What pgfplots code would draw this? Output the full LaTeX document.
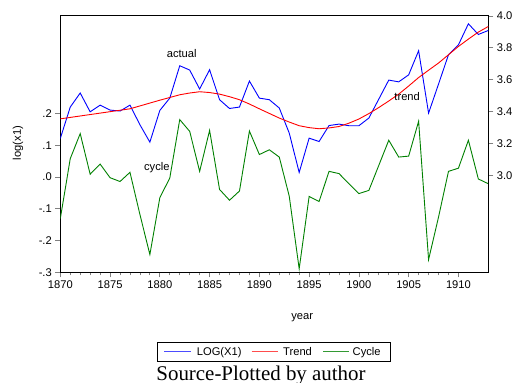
\documentclass[border=0pt]{standalone}
\usepackage{fontspec}
\setmainfont{Liberation Sans}
\newfontfamily\captionserif{Liberation Serif}
\usepackage{pgfplots}
\usepackage{pgfplotstable}
\pgfplotsset{compat=1.18}

% log(x1), its smooth trend and the cyclical component
\pgfplotstableread{
year actual trend cycle
1870 3.232 3.355 -0.131
1871 3.429 3.364 0.058
1872 3.517 3.373 0.137
1873 3.399 3.382 0.009
1874 3.441 3.391 0.041
1875 3.410 3.400 -0.002
1876 3.404 3.409 -0.014
1877 3.441 3.418 0.015
1878 3.318 3.436 -0.118
1879 3.209 3.454 -0.244
1880 3.408 3.472 -0.065
1881 3.485 3.489 -0.003
1882 3.688 3.506 0.181
1883 3.661 3.517 0.144
1884 3.542 3.525 0.018
1885 3.663 3.520 0.147
1886 3.475 3.510 -0.039
1887 3.420 3.494 -0.073
1888 3.429 3.475 -0.044
1889 3.592 3.448 0.145
1890 3.485 3.418 0.071
1891 3.475 3.389 0.086
1892 3.423 3.360 0.063
1893 3.266 3.335 -0.060
1894 3.019 3.312 -0.289
1895 3.234 3.300 -0.061
1896 3.213 3.293 -0.077
1897 3.313 3.298 0.018
1898 3.322 3.307 0.011
1899 3.312 3.328 -0.021
1900 3.312 3.354 -0.052
1901 3.360 3.388 -0.042
1902 3.479 3.426 0.037
1903 3.598 3.467 0.116
1904 3.587 3.510 0.063
1905 3.631 3.561 0.066
1906 3.782 3.614 0.176
1907 3.391 3.660 -0.260
1908 3.573 3.705 -0.126
1909 3.757 3.757 0.018
1910 3.819 3.809 0.028
1911 3.951 3.855 0.116
1912 3.884 3.899 -0.006
1913 3.909 3.934 -0.021
}\hpdata

\definecolor{actualblue}{RGB}{0,0,255}
\definecolor{trendred}{RGB}{255,0,0}
\definecolor{cyclegreen}{RGB}{0,128,0}

\newcommand\lbl{\fontsize{11.2}{13}\selectfont}

\pgfplotsset{
  frame/.style={
    scale only axis, width=428bp, height=256.8bp,
    at={(60.3bp,110.7bp)}, anchor=south west,
    xmin=1870, xmax=1913,
    tick align=outside,
    major tick length=5bp, minor tick length=3bp,
    tick style={line width=0.8bp},
    axis line style={line width=1.2bp},
    tick label style={font=\lbl},
    label style={font=\lbl},
    /pgf/number format/assume math mode=true,
    /pgf/number format/1000 sep={},
  },
}

\begin{document}
\begin{tikzpicture}
% left scale: cycle
\begin{axis}[frame,
  ymin=-0.3, ymax=0.509,
  xtick={1870,1875,...,1910}, minor x tick num=4,
  xtick pos=left, ytick pos=left,
  ytick={-0.3,-0.2,-0.1,0,0.1,0.2},
  yticklabels={-.3,-.2,-.1,.0,.1,.2},
  xlabel={year}, ylabel={log(x1)},
  xlabel style={at={(axis description cs:0.565,0)}, anchor=center, yshift=-45.7bp},
  ylabel style={at={(axis description cs:-0.0988,0.5035)}, anchor=center},
]
\addplot[color=cyclegreen, line width=0.9bp] table[x=year, y=cycle]{\hpdata};
\node[font=\lbl] at (axis cs:1879.7,0.030) {cycle};
\end{axis}
% right scale: actual and trend
\begin{axis}[frame,
  ymin=2.393, ymax=4.003,
  axis x line=none, axis y line*=right,
  ytick={3.0,3.2,3.4,3.6,3.8,4.0},
  yticklabel style={/pgf/number format/fixed, /pgf/number format/fixed zerofill, /pgf/number format/precision=1},
]
\addplot[color=actualblue, line width=0.9bp] table[x=year, y=actual]{\hpdata};
\addplot[color=trendred, line width=0.9bp] table[x=year, y=trend]{\hpdata};
\node[font=\lbl] at (axis cs:1882.2,3.763) {actual};
\node[font=\lbl] at (axis cs:1904.85,3.492) {trend};
\end{axis}
% key below the plot, laid out in its own small frame
\begin{axis}[
  scale only axis, width=232.7bp, height=18.7bp,
  at={(157.3bp,22bp)}, anchor=south west,
  xmin=0, xmax=232.7, ymin=0, ymax=18.7,
  xtick=\empty, ytick=\empty,
  axis line style={line width=0.6bp},
  clip=false,
]
\addplot[color=actualblue!70, line width=1.6bp] coordinates {(6.7,9.6) (33.4,9.6)};
\addplot[color=trendred!70, line width=1.6bp] coordinates {(94.4,9.6) (121,9.6)};
\addplot[color=cyclegreen!80, line width=1.6bp] coordinates {(165.7,9.6) (192,9.6)};
\node[font=\lbl, anchor=base west, inner sep=0pt] at (axis cs:39.4,5.3) {LOG(X1)};
\node[font=\lbl, anchor=base west, inner sep=0pt] at (axis cs:125.7,5.3) {Trend};
\node[font=\lbl, anchor=base west, inner sep=0pt] at (axis cs:195.2,5.3) {Cycle};
\end{axis}
\node[font=\captionserif\fontsize{21}{24}\selectfont, anchor=base] at (261bp,3bp) {Source-Plotted by author};
\pgfresetboundingbox
\useasboundingbox (0,0) rectangle (520bp,383bp);
\end{tikzpicture}
\end{document}
